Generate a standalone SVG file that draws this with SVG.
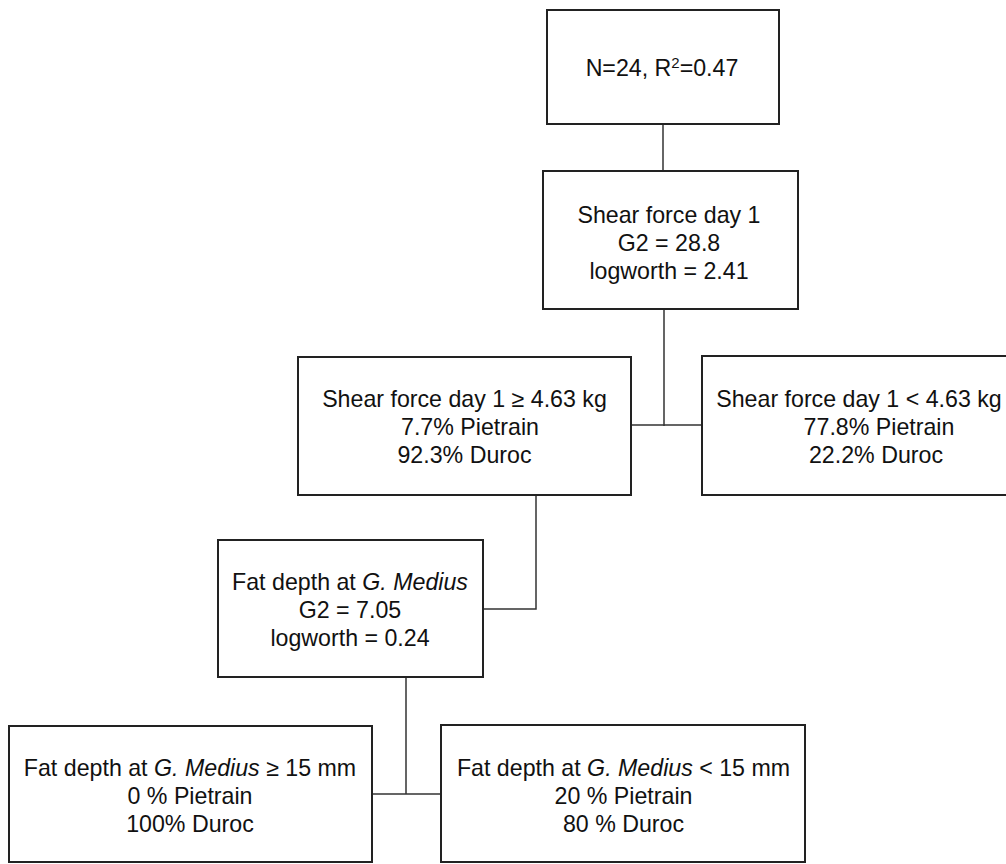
<svg xmlns="http://www.w3.org/2000/svg" width="1006" height="864" viewBox="0 0 1006 864">
<style>
.box{fill:#fff;stroke:#222;stroke-width:2}
.t{font-family:"Liberation Sans",Arial,sans-serif;font-size:23.2px;fill:#111;text-anchor:middle}
.conn{fill:none;stroke:#333;stroke-width:1.5}
</style>
<rect width="1006" height="864" fill="#fff"/>
<g id="connectors">
<path class="conn" d="M663 124V171"/>
<path class="conn" d="M664 309V426M631 425H702"/>
<path class="conn" d="M536 495V609H483"/>
<path class="conn" d="M406 677V794M372 794H441"/>
</g>
<g id="root">
<rect class="box" x="547" y="10" width="232" height="114"/>
<text class="t" x="662" y="76">N=24, R<tspan font-size="15" dy="-8">2</tspan><tspan dy="8">=0.47</tspan></text>
</g>
<g id="split1">
<rect class="box" x="543" y="171" width="255" height="138"/>
<text class="t" x="669" y="223">Shear force day 1</text>
<text class="t" x="669" y="251">G2 = 28.8</text>
<text class="t" x="669" y="279">logworth = 2.41</text>
</g>
<g id="sfHigh">
<rect class="box" x="298" y="357" width="333" height="138"/>
<text class="t" x="464.5" y="407">Shear force day 1 ≥ 4.63 kg</text>
<text class="t" x="470" y="435">7.7% Pietrain</text>
<text class="t" x="464.5" y="463">92.3% Duroc</text>
</g>
<g id="sfLow">
<rect class="box" x="702" y="356" width="340" height="139"/>
<text class="t" x="859" y="407">Shear force day 1 &lt; 4.63 kg</text>
<text class="t" x="879" y="435">77.8% Pietrain</text>
<text class="t" x="876" y="463">22.2% Duroc</text>
</g>
<g id="fat">
<rect class="box" x="218" y="540" width="265" height="137"/>
<text class="t" x="350" y="590">Fat depth at <tspan font-style="italic">G. Medius</tspan></text>
<text class="t" x="350" y="618">G2 = 7.05</text>
<text class="t" x="350" y="646">logworth = 0.24</text>
</g>
<g id="fatHigh">
<rect class="box" x="9" y="726" width="363" height="136"/>
<text class="t" x="190" y="776">Fat depth at <tspan font-style="italic">G. Medius</tspan> ≥ 15 mm</text>
<text class="t" x="190" y="804">0 % Pietrain</text>
<text class="t" x="190" y="832">100% Duroc</text>
</g>
<g id="fatLow">
<rect class="box" x="441" y="725" width="364" height="137"/>
<text class="t" x="623.5" y="776">Fat depth at <tspan font-style="italic">G. Medius</tspan> &lt; 15 mm</text>
<text class="t" x="623.5" y="804">20 % Pietrain</text>
<text class="t" x="623.5" y="832">80 % Duroc</text>
</g>
</svg>
